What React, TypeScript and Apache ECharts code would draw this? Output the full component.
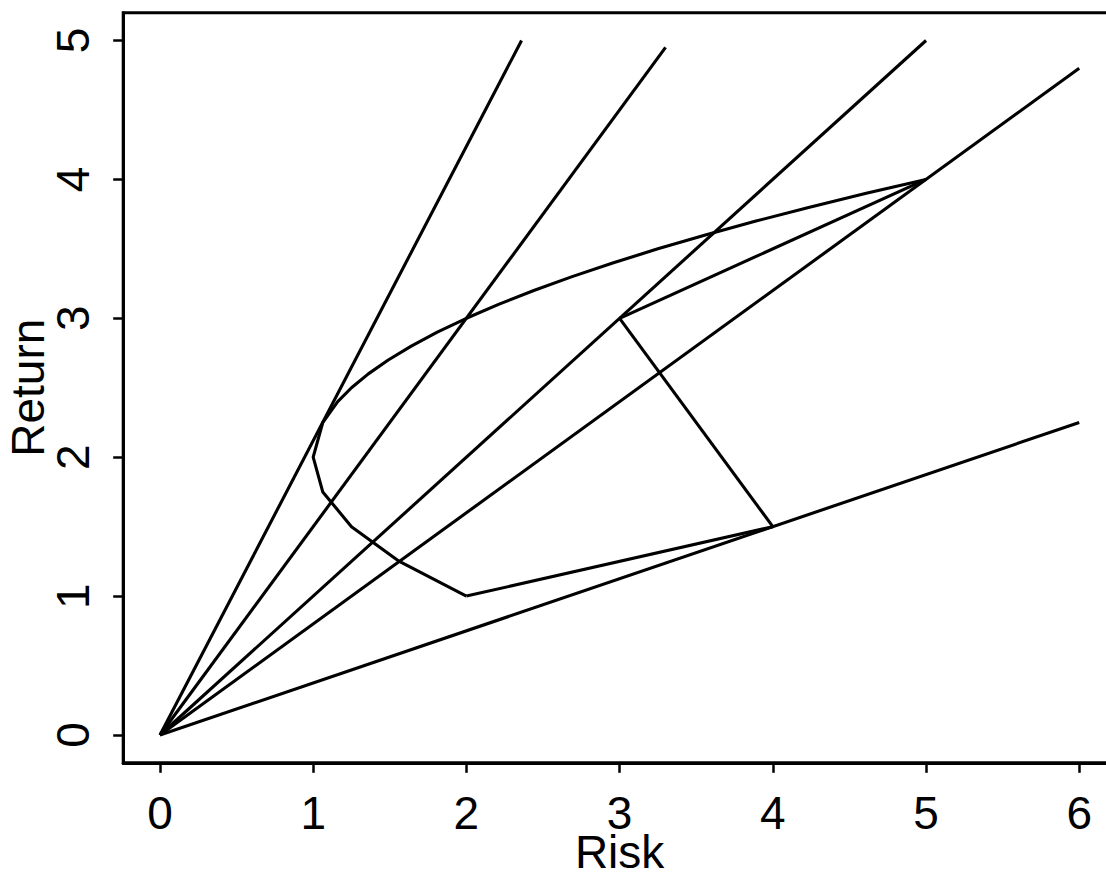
import React, { useEffect, useRef } from "react";
import * as echarts from "echarts";

// Tick labels
const xTicks = [0, 1, 2, 3, 4, 5, 6];
const yTicks = [0, 1, 2, 3, 4, 5];

// Frontier curve (risk, return)
const frontierReturn = [
  1, 1.25, 1.5, 1.75, 2, 2.25, 2.4, 2.5, 2.6, 2.7, 2.8, 2.9, 3, 3.1, 3.2, 3.3, 3.4, 3.5, 3.6, 3.7, 3.8, 3.9, 4,
];
const frontierRisk = [
  2, 1.5625, 1.25, 1.0625, 1, 1.0625, 1.16, 1.25, 1.36, 1.49, 1.64, 1.81, 2, 2.21, 2.44, 2.69, 2.96, 3.25, 3.56,
  3.89, 4.24, 4.61, 5,
];

// Rays from the origin: end points
const rayEndRisk = [2.36, 3.3, 5, 6, 6];
const rayEndReturn = [5, 4.95, 5, 4.8, 2.25];

// Straight segments between portfolios
const segStartRisk = [2, 3, 3];
const segStartReturn = [1, 3, 3];
const segEndRisk = [4, 5, 4];
const segEndReturn = [1.5, 4, 1.5];

const FONT = "'Liberation Sans', Arial, Helvetica, sans-serif";
const LW = 3.1;

export default function App() {
  const ref = useRef<HTMLDivElement>(null);
  useEffect(() => {
    if (!ref.current) return;
    const chart = echarts.init(ref.current, undefined, { renderer: "svg" });
    const lineStyle = { color: "#000", width: LW };
    const series: any[] = [];
    series.push({
      type: "line",
      data: frontierRisk.map((r, i) => [r, frontierReturn[i]]),
      symbol: "none",
      lineStyle,
      silent: true,
    });
    rayEndRisk.forEach((r, i) => {
      series.push({
        type: "line",
        data: [
          [0, 0],
          [r, rayEndReturn[i]],
        ],
        symbol: "none",
        lineStyle,
        silent: true,
      });
    });
    segStartRisk.forEach((r, i) => {
      series.push({
        type: "line",
        data: [
          [r, segStartReturn[i]],
          [segEndRisk[i], segEndReturn[i]],
        ],
        symbol: "none",
        lineStyle,
        silent: true,
      });
    });
    chart.setOption({
      animation: false,
      backgroundColor: "#fff",
      grid: {
        left: 123.2,
        top: 12.7,
        width: 992.8,
        height: 750.1,
        show: true,
        borderColor: "#000",
        borderWidth: 3,
        backgroundColor: "transparent",
        containLabel: false,
        outerBoundsMode: "none",
      },
      xAxis: {
        type: "value",
        min: -0.24,
        max: 6.24,
        name: "Risk",
        nameLocation: "middle",
        nameGap: 66,
        nameMoveOverlap: false,
        nameTextStyle: { fontSize: 46, fontFamily: FONT, color: "#000" },
        axisLine: { show: true, onZero: false, lineStyle: { color: "#000", width: 3 } },
        axisTick: {
          show: true,
          inside: false,
          length: 10,
          customValues: xTicks,
          lineStyle: { color: "#000", width: 2.5 },
        },
        axisLabel: {
          show: true,
          customValues: xTicks,
          margin: 27,
          fontSize: 46,
          fontFamily: FONT,
          color: "#000",
          formatter: (v: number) => String(v),
        },
        splitLine: { show: false },
      },
      yAxis: {
        type: "value",
        min: -0.2,
        max: 5.2,
        name: "Return",
        nameLocation: "middle",
        nameGap: 72.6,
        nameMoveOverlap: false,
        nameTextStyle: { fontSize: 46, fontFamily: FONT, color: "#000" },
        axisLine: { show: true, onZero: false, lineStyle: { color: "#000", width: 3 } },
        axisTick: {
          show: true,
          inside: false,
          length: 10,
          customValues: yTicks,
          lineStyle: { color: "#000", width: 2.5 },
        },
        axisLabel: {
          show: true,
          customValues: yTicks,
          rotate: 90,
          margin: 27,
          fontSize: 46,
          fontFamily: FONT,
          color: "#000",
          formatter: (v: number) => String(v),
        },
        splitLine: { show: false },
      },
      series,
    });
    return () => chart.dispose();
  }, []);
  return (
    <div
      style={{
        position: "absolute",
        left: 0,
        top: 0,
        width: 1106,
        height: 875,
        overflow: "hidden",
        background: "#fff",
      }}
    >
      <div ref={ref} style={{ width: 1130, height: 875 }} />
    </div>
  );
}
